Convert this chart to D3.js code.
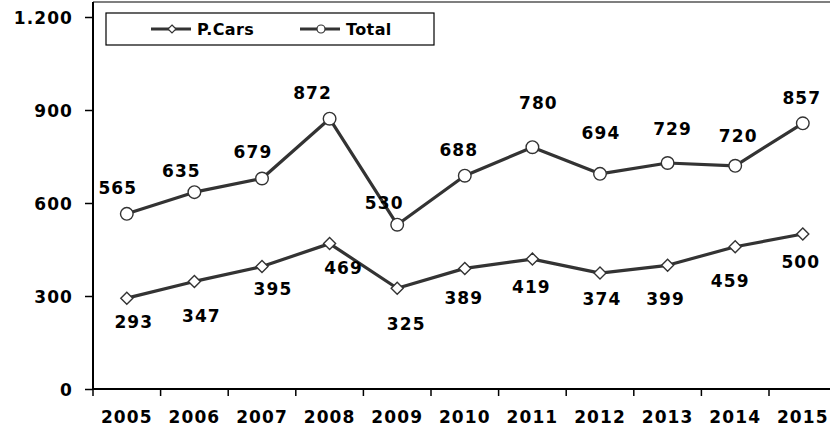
<!DOCTYPE html>
<html>
<head>
<meta charset="utf-8">
<script src="https://cdn.jsdelivr.net/npm/d3@7"></script>
<style>
  html, body { margin: 0; padding: 0; background: #fff; }
  svg { display: block; }
  text { font-family: "DejaVu Sans", Verdana, sans-serif; font-weight: bold; fill: #000; }
</style>
</head>
<body>
<svg id="chart" width="830" height="432"></svg>
<script>
// ---- data ----
const years = ["2005","2006","2007","2008","2009","2010","2011","2012","2013","2014","2015"];
const pCars = [293, 347, 395, 469, 325, 389, 419, 374, 399, 459, 500];
const total = [565, 635, 679, 872, 530, 688, 780, 694, 729, 720, 857];
const yTicks = [0, 300, 600, 900, 1200];
const yTickLabels = ["0", "300", "600", "900", "1.200"];
const seriesNames = ["P.Cars", "Total"];

// ---- layout (label placement offsets, px) ----
const pCarsLabelOffsets = [[7,24],[7,34],[11,22],[14,24],[9,36],[-1,29],[-1,28],[2,26],[-2,34],[-5,34],[-2,28]];
const totalLabelOffsets = [[-9,-26],[-13,-21],[-9,-27],[-17,-26],[-13,-22],[-6,-26],[6,-44],[1,-41],[5,-34],[3,-30],[-1,-25]];

(function () {
const svg = d3.select("#chart");
const pLeft = 93, pTop = 2, pBottom = 389, band = 67.6;
const x = d3.scaleBand().domain(years).range([pLeft, pLeft + band * years.length]).padding(0);
const y = d3.scaleLinear().domain([0, 1200]).range([pBottom, 17]);

const lineColor = "#333333";
const fs = "17px";
const ls = "1.1px";

// plot area top border
svg.append("line").attr("x1", pLeft).attr("x2", 830).attr("y1", pTop).attr("y2", pTop)
  .attr("stroke", "#555").attr("stroke-width", 1.5);

// y axis
const yAxis = svg.append("g").attr("transform", `translate(${pLeft},0)`)
  .call(d3.axisLeft(y).tickValues(yTicks).tickFormat((d, i) => yTickLabels[i]).tickSize(8).tickPadding(12));
yAxis.select(".domain").attr("d", `M0,${pTop}V${pBottom}`).attr("stroke", "#000").attr("stroke-width", 2);
yAxis.selectAll(".tick line").attr("stroke", "#000").attr("stroke-width", 1.5);
yAxis.selectAll("text").style("font-size", fs).style("letter-spacing", ls)
  .attr("fill", "#000").attr("dy", "0.36em");

// x axis
const xAxis = svg.append("g").attr("transform", `translate(0,${pBottom})`)
  .call(d3.axisBottom(x).tickSize(0).tickPadding(28));
xAxis.select(".domain").attr("d", `M${pLeft},0H830`).attr("stroke", "#000").attr("stroke-width", 2);
xAxis.selectAll("text").style("font-size", fs).style("letter-spacing", ls).attr("fill", "#000").attr("dy", "0.36em");
// boundary ticks between categories
xAxis.selectAll(".bt").data(years).enter().append("line")
  .attr("x1", d => x(d)).attr("x2", d => x(d)).attr("y1", 0).attr("y2", 7)
  .attr("stroke", "#000").attr("stroke-width", 1.5);

const cx = d => x(d) + x.bandwidth() / 2;
const line = d3.line().x((d, i) => cx(years[i])).y(d => y(d));

function drawSeries(values, marker, offsets) {
  svg.append("path").datum(values).attr("d", line)
    .attr("fill", "none").attr("stroke", lineColor).attr("stroke-width", 3.2).attr("stroke-linejoin", "round");
  const g = svg.append("g");
  values.forEach((v, i) => {
    const px = cx(years[i]), py = y(v);
    if (marker === "circle") {
      g.append("circle").attr("cx", px).attr("cy", py).attr("r", 6.3)
        .attr("fill", "#fff").attr("stroke", lineColor).attr("stroke-width", 1.4);
    } else {
      const s = 6;
      g.append("path").attr("d", `M${px},${py - s}L${px + s},${py}L${px},${py + s}L${px - s},${py}Z`)
        .attr("fill", "#fff").attr("stroke", lineColor).attr("stroke-width", 1.4);
    }
    g.append("text").attr("x", px + offsets[i][0]).attr("y", py + offsets[i][1])
      .attr("text-anchor", "middle").attr("dy", "0.36em")
      .style("font-size", fs).style("letter-spacing", ls).text(v);
  });
}
drawSeries(total, "circle", totalLabelOffsets);
drawSeries(pCars, "diamond", pCarsLabelOffsets);

// legend
const lg = svg.append("g");
lg.append("rect").attr("x", 106).attr("y", 13).attr("width", 328).attr("height", 32)
  .attr("fill", "#fff").attr("stroke", "#000").attr("stroke-width", 1.2);
const legendItems = [
  { name: seriesNames[0], x0: 151, marker: "diamond" },
  { name: seriesNames[1], x0: 300, marker: "circle" }
];
legendItems.forEach(it => {
  const ly = 29;
  lg.append("line").attr("x1", it.x0).attr("x2", it.x0 + 40).attr("y1", ly).attr("y2", ly)
    .attr("stroke", lineColor).attr("stroke-width", 3);
  const mx = it.x0 + 21;
  if (it.marker === "circle") {
    lg.append("circle").attr("cx", mx).attr("cy", ly).attr("r", 4)
      .attr("fill", "#fff").attr("stroke", lineColor).attr("stroke-width", 1.2);
  } else {
    const s = 4;
    lg.append("path").attr("d", `M${mx},${ly - s}L${mx + s},${ly}L${mx},${ly + s}L${mx - s},${ly}Z`)
      .attr("fill", "#fff").attr("stroke", lineColor).attr("stroke-width", 1.2);
  }
  lg.append("text").attr("x", it.x0 + 46).attr("y", ly).attr("dy", "0.36em")
    .style("font-size", "16px").style("letter-spacing", "0.4px").text(it.name);
});
})();
</script>
</body>
</html>
